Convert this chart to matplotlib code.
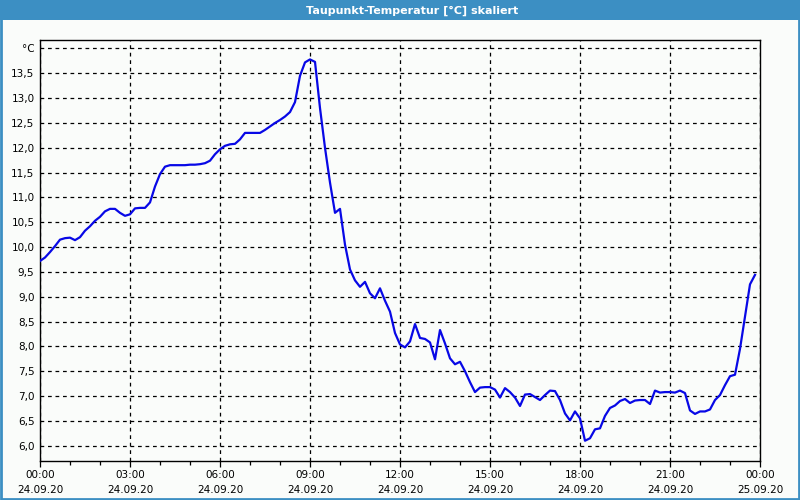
import matplotlib
matplotlib.use("Agg")
import matplotlib.pyplot as plt
from matplotlib.patches import Rectangle
from matplotlib.ticker import MultipleLocator, FixedLocator

# ---- data ----
title = "Taupunkt-Temperatur [°C] skaliert"
minutes = list(range(0, 1440, 10))
dewpoint = [
    9.72, 9.79, 9.90, 10.02, 10.15, 10.18, 10.19, 10.14, 10.20, 10.33,
    10.42, 10.53, 10.61, 10.72, 10.77, 10.77, 10.69, 10.63, 10.66, 10.78,
    10.79, 10.79, 10.90, 11.22, 11.47, 11.62, 11.65, 11.65, 11.65, 11.65,
    11.66, 11.66, 11.67, 11.69, 11.74, 11.87, 11.97, 12.04, 12.07, 12.08,
    12.17, 12.30, 12.30, 12.30, 12.30, 12.36, 12.43, 12.50, 12.56, 12.63,
    12.72, 12.92, 13.45, 13.72, 13.78, 13.73, 12.80, 12.00, 11.30, 10.69,
    10.77, 10.05, 9.55, 9.33, 9.20, 9.30, 9.07, 8.97, 9.17, 8.92,
    8.70, 8.27, 8.04, 7.98, 8.10, 8.45, 8.17, 8.15, 8.08, 7.74,
    8.33, 8.06, 7.76, 7.64, 7.69, 7.50, 7.28, 7.08, 7.17, 7.18,
    7.18, 7.13, 6.97, 7.16, 7.08, 6.97, 6.80, 7.03, 7.04, 6.98,
    6.92, 7.02, 7.11, 7.10, 6.92, 6.65, 6.51, 6.69, 6.55, 6.10,
    6.15, 6.33, 6.35, 6.60, 6.76, 6.81, 6.90, 6.94, 6.86, 6.91,
    6.92, 6.92, 6.84, 7.11, 7.07, 7.08, 7.08, 7.07, 7.11, 7.06,
    6.71, 6.64, 6.69, 6.69, 6.73, 6.92, 7.02, 7.22, 7.40, 7.43,
    7.95, 8.60, 9.25, 9.44,
]
x_tick_hours = [0, 3, 6, 9, 12, 15, 18, 21, 24]
x_tick_labels = ["00:00\n24.09.20", "03:00\n24.09.20", "06:00\n24.09.20",
                 "09:00\n24.09.20", "12:00\n24.09.20", "15:00\n24.09.20",
                 "18:00\n24.09.20", "21:00\n24.09.20", "00:00\n25.09.20"]
y_ticks = [6.0, 6.5, 7.0, 7.5, 8.0, 8.5, 9.0, 9.5, 10.0, 10.5, 11.0,
           11.5, 12.0, 12.5, 13.0, 13.5, 14.0]
y_tick_labels = ["6,0", "6,5", "7,0", "7,5", "8,0", "8,5", "9,0", "9,5",
                 "10,0", "10,5", "11,0", "11,5", "12,0", "12,5", "13,0",
                 "13,5", "°C"]

BLUE_FRAME = "#3c8fc3"
BG = "#fafcfa"
LINE = "#0808e6"

plt.rcParams['font.family'] = ['DejaVu Sans']

fig = plt.figure(figsize=(8, 5), dpi=100, facecolor=BG)

# title bar and border
fig.patches.append(Rectangle((0, 1 - 20 / 500), 1, 20 / 500, transform=fig.transFigure,
                             facecolor=BLUE_FRAME, edgecolor="none", zorder=0))
fig.patches.append(Rectangle((0.0012, 0.002), 1 - 0.0025, 1 - 0.004, transform=fig.transFigure,
                             facecolor="none", edgecolor=BLUE_FRAME, linewidth=2.0, zorder=1))
fig.text(412 / 800, 1 - 10.5 / 500, title, color="white", fontsize=8, fontweight="bold",
         ha="center", va="center")

ax = fig.add_axes([40 / 800, 1 - 460.7 / 500, 720 / 800, (460.7 - 40.3) / 500])
ax.set_facecolor(BG)

hours = [m / 60 for m in minutes]
ax.plot(hours, dewpoint, color=LINE, linewidth=1.6, zorder=3)

ax.set_xlim(0, 24)
ax.set_ylim(5.698, 14.165)

ax.xaxis.set_major_locator(FixedLocator(x_tick_hours))
ax.set_xticklabels(x_tick_labels)
ax.xaxis.set_minor_locator(MultipleLocator(1))
ax.set_yticks(y_ticks)
ax.set_yticklabels(y_tick_labels)

ax.grid(True, which="major", color="black", linestyle=(0, (3, 3)), linewidth=0.9)
ax.tick_params(axis="x", which="major", length=4, width=0.9, direction="out",
               labelsize=7.5, pad=3, colors="black")
ax.tick_params(axis="x", which="minor", length=3, width=0.9, direction="out")
ax.tick_params(axis="y", which="major", length=0, labelsize=7.5, pad=4)
for lbl in ax.get_xticklabels():
    lbl.set_linespacing(1.55)
for s in ax.spines.values():
    s.set_color("black")
    s.set_linewidth(1.0)

fig.savefig("out.png", dpi=100, facecolor=BG)
